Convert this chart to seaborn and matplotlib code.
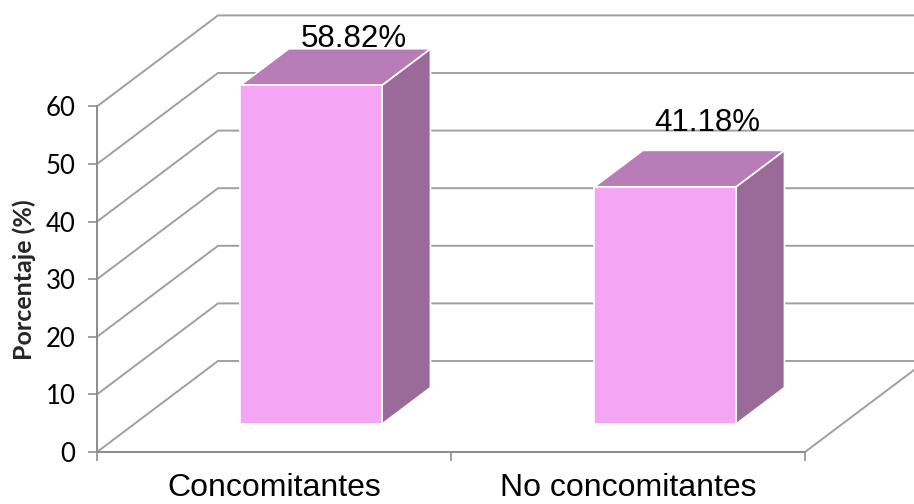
import matplotlib
matplotlib.use("Agg")
import matplotlib.pyplot as plt
from matplotlib.patches import Polygon
import seaborn as sns

# Data
categories = ["Concomitantes", "No concomitantes"]
percentages = [58.82, 41.18]
value_labels = ["58.82%", "41.18%"]
y_ticks = [0, 10, 20, 30, 40, 50, 60]

# Colours
front_color = "#F4A6F4"
top_color = "#B87DB7"
side_color = "#9A6A99"
grid_color = "#A0A0A0"
axis_color = "#8C8C8C"

sns.set_theme(style="white")
plt.rcParams["font.family"] = ["Lato", "DejaVu Sans"]

W, H, DPI = 914, 504, 100
fig = plt.figure(figsize=(W / DPI, H / DPI), dpi=DPI)

# Front plane of the chart box, in pixels
x_left, x_right = 97, 805
y_zero, px_per_unit = 452, 5.76
ax = fig.add_axes([x_left / W, (H - y_zero) / H,
                   (x_right - x_left) / W, 60 * px_per_unit / H])
ax.set_xlim(-0.5, 1.5)
ax.set_ylim(0, 60)

# Oblique depth vector of the whole box, in data units
depth_dx = 121 / ((x_right - x_left) / 2)
depth_dy = 91 / px_per_unit
bar_front = 0.308   # fraction of the depth where bar fronts sit
bar_depth = 0.40    # fraction of the depth taken by each bar

# Back-wall gridlines and side-wall diagonals
x0, x1 = ax.get_xlim()
for v in y_ticks:
    ax.plot([x0, x0 + depth_dx, x1 + depth_dx], [v, v + depth_dy, v + depth_dy],
            color=grid_color, lw=1.4, clip_on=False, zorder=1, solid_joinstyle="miter")
# Floor right edge
ax.plot([x1, x1 + depth_dx], [0, depth_dy], color=grid_color, lw=1.4,
        clip_on=False, zorder=1)

# Front faces of the bars
sns.barplot(x=categories, y=percentages, width=0.4, color=front_color,
            saturation=1, edgecolor="white", linewidth=1.2, ax=ax, zorder=3)

ox, oy = bar_front * depth_dx, bar_front * depth_dy
dx, dy = bar_depth * depth_dx, bar_depth * depth_dy
label_lift = [1.5, 14]  # points above the back edge of each bar top
for i, patch in enumerate(ax.patches):
    patch.set_x(patch.get_x() + ox)
    patch.set_y(patch.get_y() + oy)
    patch.set_clip_on(False)
    bx0 = patch.get_x()
    bx1 = bx0 + patch.get_width()
    by0 = patch.get_y()
    by1 = by0 + patch.get_height()
    side = Polygon([(bx1, by0), (bx1 + dx, by0 + dy), (bx1 + dx, by1 + dy), (bx1, by1)],
                   closed=True, facecolor=side_color, edgecolor="white", lw=1.2,
                   zorder=2.9, clip_on=False)
    top = Polygon([(bx0, by1), (bx1, by1), (bx1 + dx, by1 + dy), (bx0 + dx, by1 + dy)],
                  closed=True, facecolor=top_color, edgecolor="white", lw=1.2,
                  zorder=2.9, clip_on=False)
    ax.add_patch(side)
    ax.add_patch(top)
    ax.annotate(value_labels[i], xy=((bx0 + bx1) / 2 + dx, by1 + dy),
                xytext=(-4.5, label_lift[i]), textcoords="offset points",
                ha="center", va="baseline", fontsize=22.5,
                family=["Liberation Sans", "DejaVu Sans"], color="black",
                annotation_clip=False, zorder=5)

# Axes styling
for s in ["top", "right"]:
    ax.spines[s].set_visible(False)
for s in ["left", "bottom"]:
    ax.spines[s].set_color(axis_color)
    ax.spines[s].set_linewidth(1.4)
    ax.spines[s].set_zorder(2)

ax.set_yticks(y_ticks)
ax.tick_params(axis="y", which="major", direction="out", length=6.5, width=1.2,
               color=axis_color, pad=9, labelsize=18.5, labelcolor="black", left=True)

ax.set_xticks([0, 1])
ax.set_xticklabels(categories, fontsize=23,
                   family=["Liberation Sans", "DejaVu Sans"], color="black")
ax.set_xticks([-0.5, 0.5, 1.5], minor=True)
ax.tick_params(axis="x", which="major", length=0, pad=15)
ax.tick_params(axis="x", which="minor", direction="out", length=6.5, width=1.2,
               color=axis_color, bottom=True)
ax.set_xlabel("")
ax.set_ylabel("Porcentaje (%)", fontsize=18, fontweight="bold", labelpad=7)
ax.grid(False)

fig.savefig("out.png", dpi=DPI)
